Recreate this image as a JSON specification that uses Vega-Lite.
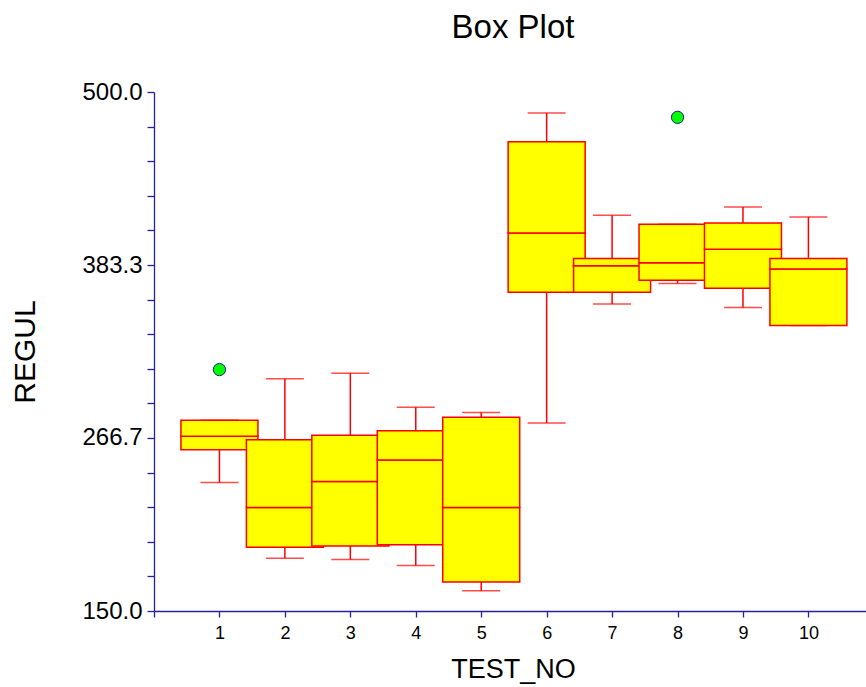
{
  "$schema": "https://vega.github.io/schema/vega-lite/v6.json",
  "autosize": "none",
  "width": 712,
  "height": 519,
  "padding": {"left": 154, "top": 92, "right": 0, "bottom": 76},
  "background": "white",
  "title": {"text": "Box Plot", "fontSize": 33, "font": "Liberation Sans", "fontWeight": "normal", "color": "#000000", "anchor": "middle", "baseline": "alphabetic", "offset": 9, "dx": 3},
  "config": {
    "view": {"stroke": null},
    "axis": {"grid": false, "domainColor": "#2222a0", "tickColor": "#2222a0", "domainWidth": 1.3, "tickWidth": 1.3, "labelFont": "Liberation Sans", "titleFont": "Liberation Sans", "labelColor": "#000000", "titleColor": "#000000", "titleFontWeight": "normal", "labelOverlap": false, "labelBound": false, "labelFlush": false},
    "axisX": {"tickSize": 6, "tickCount": 30, "labelFontSize": 18, "labelPadding": 7, "titleFontSize": 27, "titleX": 359, "titleY": 58, "titleBaseline": "middle", "titleAlign": "center"},
    "axisY": {"tickSize": 7, "tickCount": 30, "labelFontSize": 24, "labelPadding": 5, "titleFontSize": 30, "titleX": -129, "titleY": 259.5, "titleBaseline": "middle", "titleAlign": "center", "titleAngle": -90}
  },
  "datasets": {
    "halves": [
      {"TEST_NO": 1, "lower": 258.8, "upper": 267.8},
      {"TEST_NO": 1, "lower": 267.8, "upper": 278.6},
      {"TEST_NO": 2, "lower": 193.0, "upper": 219.8},
      {"TEST_NO": 2, "lower": 219.8, "upper": 265.5},
      {"TEST_NO": 3, "lower": 193.9, "upper": 237.4},
      {"TEST_NO": 3, "lower": 237.4, "upper": 268.5},
      {"TEST_NO": 4, "lower": 194.6, "upper": 251.8},
      {"TEST_NO": 4, "lower": 251.8, "upper": 271.6},
      {"TEST_NO": 5, "lower": 169.6, "upper": 219.8},
      {"TEST_NO": 5, "lower": 219.8, "upper": 280.6},
      {"TEST_NO": 6, "lower": 364.9, "upper": 404.9},
      {"TEST_NO": 6, "lower": 404.9, "upper": 466.5},
      {"TEST_NO": 7, "lower": 364.9, "upper": 382.9},
      {"TEST_NO": 7, "lower": 382.9, "upper": 387.8},
      {"TEST_NO": 8, "lower": 373.0, "upper": 384.9},
      {"TEST_NO": 8, "lower": 384.9, "upper": 410.8},
      {"TEST_NO": 9, "lower": 367.6, "upper": 393.9},
      {"TEST_NO": 9, "lower": 393.9, "upper": 411.7},
      {"TEST_NO": 10, "lower": 342.6, "upper": 380.6},
      {"TEST_NO": 10, "lower": 380.6, "upper": 387.8}
    ],
    "whiskers": [
      {"TEST_NO": 1, "start": 258.8, "end": 236.7},
      {"TEST_NO": 1, "start": 278.6, "end": 278.6},
      {"TEST_NO": 2, "start": 193.0, "end": 185.6},
      {"TEST_NO": 2, "start": 265.5, "end": 306.6},
      {"TEST_NO": 3, "start": 193.9, "end": 184.7},
      {"TEST_NO": 3, "start": 268.5, "end": 310.4},
      {"TEST_NO": 4, "start": 194.6, "end": 180.6},
      {"TEST_NO": 4, "start": 271.6, "end": 287.4},
      {"TEST_NO": 5, "start": 169.6, "end": 163.7},
      {"TEST_NO": 5, "start": 280.6, "end": 283.8},
      {"TEST_NO": 6, "start": 364.9, "end": 276.8},
      {"TEST_NO": 6, "start": 466.5, "end": 485.8},
      {"TEST_NO": 7, "start": 364.9, "end": 357.0},
      {"TEST_NO": 7, "start": 387.8, "end": 416.9},
      {"TEST_NO": 8, "start": 373.0, "end": 370.9},
      {"TEST_NO": 8, "start": 410.8, "end": 410.8},
      {"TEST_NO": 9, "start": 367.6, "end": 354.7},
      {"TEST_NO": 9, "start": 411.7, "end": 422.5},
      {"TEST_NO": 10, "start": 342.6, "end": 342.6},
      {"TEST_NO": 10, "start": 387.8, "end": 415.7}
    ],
    "outliers": [
      {"TEST_NO": 1, "REGUL": 312.8},
      {"TEST_NO": 8, "REGUL": 482.9}
    ]
  },
  "layer": [
    {
      "data": {"name": "whiskers"},
      "mark": {"type": "rule", "color": "#ff0000", "strokeWidth": 1.5},
      "encoding": {
        "x": {"field": "TEST_NO", "type": "quantitative", "title": "TEST_NO",
              "scale": {"domain": [0, 10.88], "nice": false, "zero": false, "padding": 0},
              "axis": {"values": [0, 1, 2, 3, 4, 5, 6, 7, 8, 9, 10], "labelExpr": "datum.value == 0 ? '' : format(datum.value, 'd')"}},
        "y": {"field": "start", "type": "quantitative", "title": "REGUL",
              "scale": {"domain": [150, 500], "nice": false, "zero": false, "padding": 0},
              "axis": {"values": [150, 173.3333, 196.6667, 220, 243.3333, 266.6667, 290, 313.3333, 336.6667, 360, 383.3333, 406.6667, 430, 453.3333, 476.6667, 500],
                       "labelExpr": "indexof([150, 266.7, 383.3, 500], round(datum.value * 10) / 10) >= 0 ? format(datum.value, '.1f') : ''"}},
        "y2": {"field": "end"}
      }
    },
    {
      "data": {"name": "whiskers"},
      "mark": {"type": "tick", "orient": "horizontal", "color": "#ff0000", "size": 38, "thickness": 1.5},
      "encoding": {
        "x": {"field": "TEST_NO", "type": "quantitative", "title": "TEST_NO"},
        "y": {"field": "end", "type": "quantitative", "title": "REGUL"}
      }
    },
    {
      "data": {"name": "halves"},
      "mark": {"type": "bar", "size": 77, "fill": "#ffff00", "stroke": "#ff0000", "strokeWidth": 1.5, "fillOpacity": 1},
      "encoding": {
        "x": {"field": "TEST_NO", "type": "quantitative", "title": "TEST_NO"},
        "y": {"field": "lower", "type": "quantitative", "title": "REGUL"},
        "y2": {"field": "upper"}
      }
    },
    {
      "data": {"name": "outliers"},
      "mark": {"type": "point", "shape": "circle", "filled": true, "fill": "#00ff00", "stroke": "#1a1a80", "strokeWidth": 1, "size": 150, "opacity": 1},
      "encoding": {
        "x": {"field": "TEST_NO", "type": "quantitative", "title": "TEST_NO"},
        "y": {"field": "REGUL", "type": "quantitative", "title": "REGUL"}
      }
    }
  ]
}
